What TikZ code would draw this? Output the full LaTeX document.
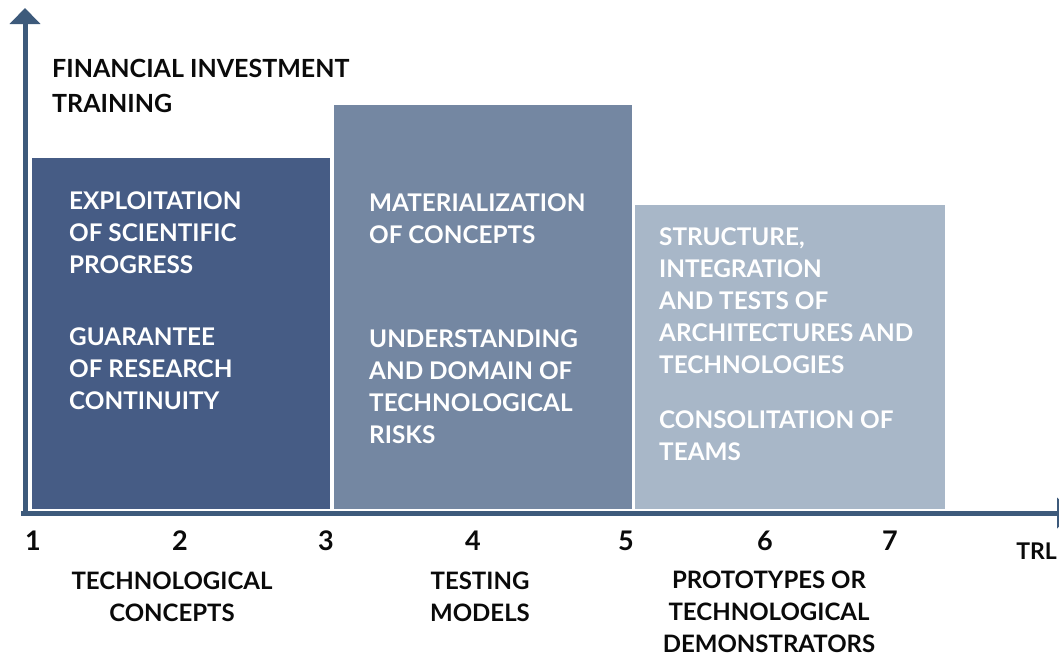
\documentclass[tikz,border=0pt]{standalone}
\usepackage{fontspec}
\setmainfont{Lato}
\usetikzlibrary{arrows.meta}
\definecolor{axisc}{HTML}{3D5A7B}
\definecolor{boxa}{HTML}{465C85}
\definecolor{boxb}{HTML}{7487A2}
\definecolor{boxc}{HTML}{A8B7C8}
\definecolor{ink}{HTML}{0A0A0A}
\tikzset{
  axis/.style={draw=axisc, line width=5pt, -{Triangle[width=30pt,length=16pt]}},
  bar/.style={draw=none, inner sep=0pt, anchor=south west},
  intext/.style={text=white, font=\bfseries\fontsize{24.3}{32}\selectfont, align=left, anchor=north west, inner sep=0pt},
  lab/.style={text=ink, font=\bfseries\fontsize{24}{32}\selectfont, align=center, anchor=north, inner sep=0pt},
  num/.style={text=ink, font=\bfseries\fontsize{27}{30}\selectfont, inner sep=0pt},
}
\begin{document}
\begin{tikzpicture}[x=1pt,y=-1pt]
\useasboundingbox[fill=white] (0,0) rectangle (1059,656);
% bars
\node[bar, fill=boxa, minimum width=298pt, minimum height=351pt] (b1) at (32,509) {};
\node[bar, fill=boxb, minimum width=298pt, minimum height=404pt] (b2) at (334,509) {};
\node[bar, fill=boxc, minimum width=310pt, minimum height=304pt] (b3) at (635,509) {};
% axes
\coordinate (o) at (25,513);
\coordinate (ytop) at (25,8);
\coordinate (xo) at (21,513);
\coordinate (xend) at (1073,513);
\draw[axis] (o) -- (ytop);
\draw[axis] (xo) -- (xend);
% heading
\node[text=ink, font=\bfseries\fontsize{25}{35}\selectfont, align=left, anchor=north west, inner sep=0pt] (head) at (52,59.5) {FINANCIAL INVESTMENT\\TRAINING};
% box texts
\node[intext] (t1a) at (69,191.5) {EXPLOITATION\\OF SCIENTIFIC\\PROGRESS};
\node[intext] (t1b) at (69,327.5) {GUARANTEE\\OF RESEARCH\\CONTINUITY};
\node[intext] (t2a) at (369,193.5) {MATERIALIZATION\\OF CONCEPTS};
\node[intext] (t2b) at (369,329.5) {UNDERSTANDING\\AND DOMAIN OF\\TECHNOLOGICAL\\RISKS};
\node[intext] (t3a) at (659,227.5) {STRUCTURE,\\INTEGRATION\\AND TESTS OF\\ARCHITECTURES AND\\TECHNOLOGIES};
\node[intext] (t3b) at (659,410.5) {CONSOLITATION OF\\TEAMS};
% numbers
\node[num] (n1) at (33,541) {1};
\node[num] (n2) at (180,541) {2};
\node[num] (n3) at (326,541) {3};
\node[num] (n4) at (473,541) {4};
\node[num] (n5) at (626,541) {5};
\node[num] (n6) at (765,541) {6};
\node[num] (n7) at (890,541) {7};
\node[text=ink, font=\bfseries\fontsize{23}{26}\selectfont, inner sep=0pt, anchor=east] (trl) at (1057,551) {TRL};
% bottom labels
\node[lab] (l1) at (172,571.5) {TECHNOLOGICAL\\CONCEPTS};
\node[lab] (l2) at (480,571.5) {TESTING\\MODELS};
\node[lab] (l3) at (769,571) {PROTOTYPES OR\\TECHNOLOGICAL\\DEMONSTRATORS};
\end{tikzpicture}
\end{document}
